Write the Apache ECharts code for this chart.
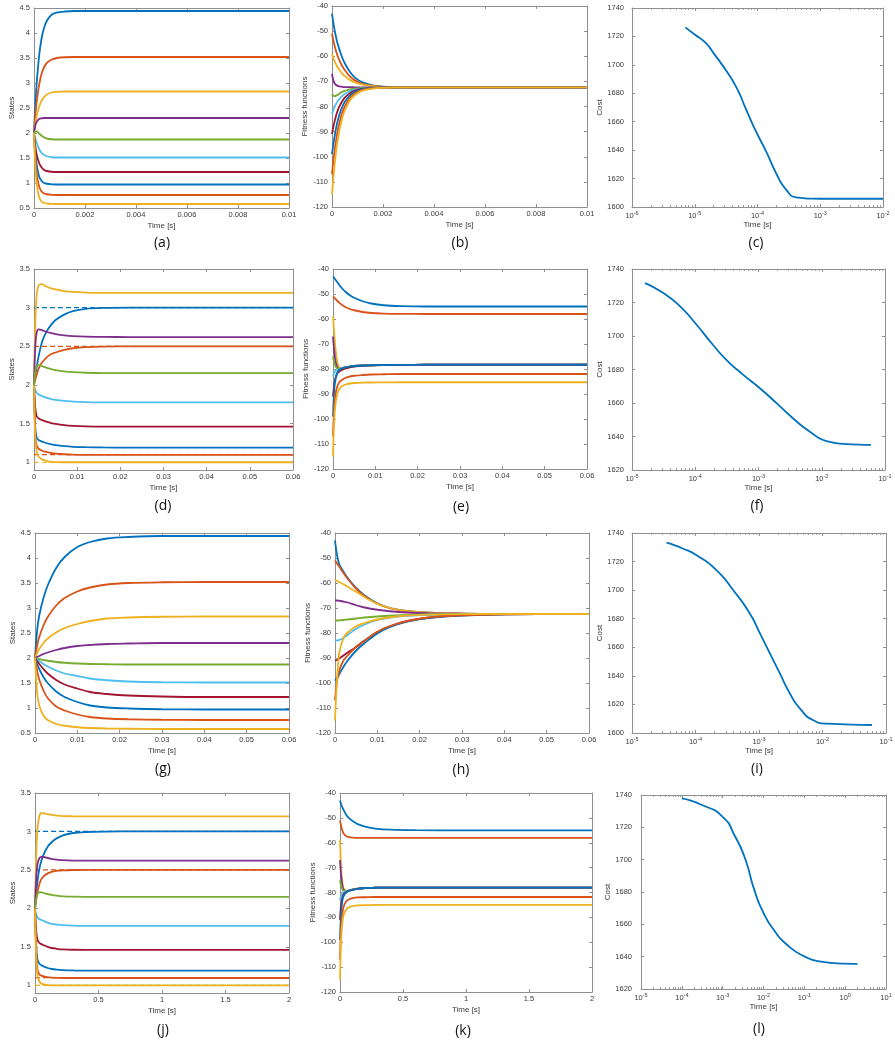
<!DOCTYPE html>
<html>
<head>
<meta charset="utf-8">
<script src="https://cdn.jsdelivr.net/npm/echarts@6/dist/echarts.min.js"></script>
<style>
  html, body { margin: 0; padding: 0; background: #ffffff; }
  #chart { width: 895px; height: 1044px; }
</style>
</head>
<body>
<div id="chart"></div>
<script>
// ---------- data: states, fitness functions and cost for four runs ----------

// (a) states, short horizon
const timeA = [0, 0.00005, 0.0001, 0.0002, 0.0003, 0.0004, 0.0005, 0.0007, 0.0009, 0.0012, 0.0016, 0.0022, 0.003, 0.005, 0.01];
const statesA = [
  [2, 2.55, 2.96, 3.54, 3.9, 4.11, 4.24, 4.37, 4.41, 4.43, 4.44, 4.44, 4.44, 4.44, 4.44],
  [2, 2.34, 2.6, 2.96, 3.19, 3.32, 3.4, 3.47, 3.5, 3.515, 3.52, 3.52, 3.52, 3.52, 3.52],
  [2, 2.18, 2.33, 2.52, 2.65, 2.72, 2.77, 2.81, 2.822, 2.83, 2.83, 2.83, 2.83, 2.83, 2.83],
  [2, 2.14, 2.22, 2.28, 2.295, 2.3, 2.3, 2.3, 2.3, 2.3, 2.3, 2.3, 2.3, 2.3, 2.3],
  [2, 2.025, 2.03, 1.99, 1.945, 1.91, 1.89, 1.875, 1.87, 1.87, 1.87, 1.87, 1.87, 1.87, 1.87],
  [2, 1.9, 1.81, 1.68, 1.6, 1.56, 1.535, 1.515, 1.51, 1.51, 1.51, 1.51, 1.51, 1.51, 1.51],
  [2, 1.75, 1.58, 1.4, 1.31, 1.26, 1.24, 1.225, 1.22, 1.22, 1.22, 1.22, 1.22, 1.22, 1.22],
  [2, 1.62, 1.38, 1.13, 1.04, 1.0, 0.985, 0.973, 0.97, 0.97, 0.97, 0.97, 0.97, 0.97, 0.97],
  [2, 1.5, 1.2, 0.93, 0.83, 0.79, 0.775, 0.763, 0.76, 0.76, 0.76, 0.76, 0.76, 0.76, 0.76],
  [2, 1.35, 1.0, 0.72, 0.63, 0.6, 0.59, 0.582, 0.58, 0.58, 0.58, 0.58, 0.58, 0.58, 0.58]
];

// (b) fitness functions, short horizon
const timeB = [0, 0.00005, 0.0001, 0.0002, 0.0003, 0.0004, 0.0005, 0.0007, 0.0009, 0.0012, 0.0016, 0.002, 0.0025, 0.004, 0.01];
const fitnessB = [
  [-43, -46.5, -49.5, -54.2, -57.6, -60.5, -62.8, -66.2, -68.5, -70.4, -71.6, -72.1, -72.3, -72.4, -72.4],
  [-51, -53.5, -55.8, -59.3, -61.8, -63.9, -65.5, -68, -69.6, -71, -71.8, -72.2, -72.35, -72.4, -72.4],
  [-59, -60.5, -61.9, -64, -65.6, -66.9, -67.9, -69.4, -70.4, -71.3, -71.9, -72.2, -72.35, -72.4, -72.4],
  [-67, -69.5, -70.8, -71.7, -72, -72.15, -72.25, -72.3, -72.35, -72.4, -72.4, -72.4, -72.4, -72.4, -72.4],
  [-75, -75.7, -75.9, -75.5, -74.8, -74.2, -73.8, -73.2, -72.9, -72.6, -72.5, -72.45, -72.4, -72.4, -72.4],
  [-83, -81.5, -80.2, -78.2, -76.9, -75.8, -75, -73.9, -73.3, -72.8, -72.55, -72.45, -72.4, -72.4, -72.4],
  [-91, -88.3, -86, -82.3, -79.8, -77.9, -76.5, -74.7, -73.7, -72.9, -72.6, -72.45, -72.4, -72.4, -72.4],
  [-99, -95.3, -92, -86.7, -83, -80.2, -78.2, -75.6, -74.2, -73.1, -72.65, -72.5, -72.4, -72.4, -72.4],
  [-107, -102, -97.8, -91, -86.2, -82.6, -80, -76.6, -74.8, -73.4, -72.75, -72.5, -72.42, -72.4, -72.4],
  [-115, -109, -103.5, -95, -89.2, -84.7, -81.6, -77.6, -75.4, -73.7, -72.85, -72.55, -72.42, -72.4, -72.4]
];

// (c) cost
const timeC = [7.1e-6, 1e-5, 1.48e-5, 2.09e-5, 3.24e-5, 4.68e-5, 6.68e-5, 9.6e-5, 1.39e-4, 2e-4, 2.88e-4, 4.17e-4, 6.8e-4, 1e-3, 1e-2];
const costC = [1726.4, 1721.3, 1715.6, 1707, 1695.3, 1683.6, 1668, 1652.6, 1638.6, 1623.4, 1612, 1606.8, 1605.9, 1605.8, 1605.8];

// (d) states with bounds
const timeD = [0, 0.0003, 0.0006, 0.001, 0.0015, 0.002, 0.003, 0.004, 0.005, 0.007, 0.009, 0.012, 0.016, 0.022, 0.03, 0.06];
const statesD = [
  [2, 2.12, 2.22, 2.35, 2.48, 2.58, 2.7, 2.78, 2.84, 2.91, 2.955, 2.985, 2.997, 3.0, 3.0, 3.0],
  [2, 2.07, 2.13, 2.2, 2.26, 2.3, 2.36, 2.4, 2.42, 2.455, 2.475, 2.49, 2.497, 2.5, 2.5, 2.5],
  [2, 2.8, 3.15, 3.28, 3.305, 3.3, 3.27, 3.25, 3.235, 3.215, 3.203, 3.195, 3.192, 3.19, 3.19, 3.19],
  [2, 2.5, 2.67, 2.72, 2.715, 2.705, 2.685, 2.67, 2.658, 2.642, 2.632, 2.625, 2.621, 2.62, 2.62, 2.62],
  [2, 2.18, 2.25, 2.26, 2.25, 2.24, 2.22, 2.205, 2.192, 2.176, 2.166, 2.158, 2.154, 2.153, 2.153, 2.153],
  [2, 1.93, 1.9, 1.88, 1.865, 1.852, 1.832, 1.817, 1.806, 1.793, 1.785, 1.779, 1.776, 1.775, 1.775, 1.775],
  [2, 1.7, 1.6, 1.57, 1.555, 1.542, 1.522, 1.507, 1.496, 1.481, 1.472, 1.465, 1.462, 1.46, 1.46, 1.46],
  [2, 1.45, 1.32, 1.29, 1.276, 1.265, 1.246, 1.232, 1.221, 1.208, 1.2, 1.195, 1.192, 1.19, 1.19, 1.19],
  [2, 1.35, 1.22, 1.18, 1.16, 1.146, 1.13, 1.12, 1.112, 1.104, 1.099, 1.096, 1.095, 1.095, 1.095, 1.095],
  [2, 1.3, 1.14, 1.08, 1.05, 1.035, 1.016, 1.006, 1.002, 1.0, 1.0, 1.0, 1.0, 1.0, 1.0, 1.0]
];
const boundsD = [3.0, 2.5, 1.1, 1.0];
const boundSeriesD = [0, 1, 8, 9];

// (e) fitness functions with bounds
const timeE = [0, 0.0003, 0.0006, 0.001, 0.0015, 0.002, 0.003, 0.004, 0.005, 0.007, 0.009, 0.012, 0.016, 0.022, 0.03, 0.06];
const fitnessE = [
  [-43, -43.6, -44.3, -45.2, -46.4, -47.5, -49.2, -50.5, -51.5, -52.9, -53.8, -54.5, -54.85, -55, -55, -55],
  [-51, -51.5, -52, -52.7, -53.5, -54.2, -55.3, -56, -56.5, -57.2, -57.6, -57.85, -57.95, -58, -58, -58],
  [-59, -66, -72, -77, -79.5, -79.8, -79.3, -79, -78.8, -78.6, -78.5, -78.4, -78.35, -78.3, -78.3, -78.3],
  [-67, -73, -77, -79.3, -80, -79.8, -79.3, -79, -78.8, -78.6, -78.5, -78.4, -78.35, -78.3, -78.3, -78.3],
  [-75, -77.5, -79, -79.8, -80, -79.8, -79.3, -79, -78.8, -78.6, -78.5, -78.4, -78.35, -78.3, -78.3, -78.3],
  [-83, -81.5, -80.8, -80.4, -80.2, -79.9, -79.4, -79.1, -78.9, -78.65, -78.5, -78.4, -78.35, -78.3, -78.3, -78.3],
  [-91, -86, -83.5, -81.8, -81, -80.5, -79.8, -79.3, -79, -78.7, -78.55, -78.4, -78.35, -78.3, -78.3, -78.3],
  [-99, -88, -84, -81.5, -80.3, -79.8, -79.3, -79, -78.8, -78.6, -78.5, -78.4, -78.35, -78.3, -78.3, -78.3],
  [-107, -95, -90, -87, -85.3, -84.5, -83.5, -83, -82.7, -82.4, -82.2, -82.1, -82, -82, -82, -82],
  [-115, -100, -94, -90, -88, -87, -86.2, -85.8, -85.6, -85.45, -85.4, -85.35, -85.3, -85.3, -85.3, -85.3]
];

// (f) cost
const timeF = [1.6e-5, 3.13e-5, 5.75e-5, 1.05e-4, 1.9e-4, 3.1e-4, 5.75e-4, 1.05e-3, 1.93e-3, 3.5e-3, 6.5e-3, 1.19e-2, 2.2e-2, 6e-2];
const costF = [1731.6, 1725.6, 1717.7, 1706.7, 1694.8, 1685.8, 1676.8, 1668.8, 1659.9, 1650.9, 1642.9, 1637.3, 1635.6, 1635];

// (g) states, slower dynamics
const timeG = [0, 0.0005, 0.001, 0.002, 0.003, 0.005, 0.007, 0.01, 0.013, 0.017, 0.022, 0.03, 0.04, 0.06];
const statesG = [
  [2, 2.55, 2.85, 3.2, 3.45, 3.8, 4.02, 4.22, 4.32, 4.39, 4.42, 4.44, 4.44, 4.44],
  [2, 2.25, 2.42, 2.65, 2.82, 3.05, 3.2, 3.33, 3.41, 3.47, 3.5, 3.515, 3.52, 3.52],
  [2, 2.1, 2.18, 2.3, 2.39, 2.51, 2.6, 2.68, 2.74, 2.79, 2.81, 2.825, 2.83, 2.83],
  [2, 2.02, 2.04, 2.08, 2.11, 2.16, 2.2, 2.24, 2.26, 2.28, 2.29, 2.3, 2.3, 2.3],
  [2, 1.99, 1.98, 1.96, 1.945, 1.92, 1.905, 1.89, 1.88, 1.875, 1.87, 1.87, 1.87, 1.87],
  [2, 1.97, 1.94, 1.88, 1.83, 1.75, 1.69, 1.64, 1.59, 1.555, 1.53, 1.515, 1.51, 1.51],
  [2, 1.94, 1.88, 1.78, 1.69, 1.56, 1.47, 1.39, 1.32, 1.28, 1.25, 1.23, 1.22, 1.22],
  [2, 1.88, 1.78, 1.62, 1.5, 1.33, 1.22, 1.12, 1.05, 1.01, 0.99, 0.975, 0.97, 0.97],
  [2, 1.75, 1.57, 1.35, 1.2, 1.03, 0.95, 0.87, 0.82, 0.79, 0.775, 0.765, 0.76, 0.76],
  [2, 1.3, 1.05, 0.85, 0.76, 0.68, 0.645, 0.615, 0.6, 0.59, 0.585, 0.58, 0.58, 0.58]
];

// (h) fitness functions, slower dynamics
const timeH = [0, 0.0005, 0.001, 0.002, 0.003, 0.005, 0.007, 0.01, 0.013, 0.017, 0.022, 0.03, 0.04, 0.06];
const fitnessH = [
  [-43, -49, -52.5, -55.5, -58, -62, -65, -68.1, -70, -71.2, -71.9, -72.3, -72.4, -72.4],
  [-51, -52.3, -53.5, -56, -58.3, -62.3, -65.3, -68.3, -70.1, -71.3, -71.9, -72.3, -72.4, -72.4],
  [-59, -59.2, -59.6, -60.5, -61.5, -63.5, -65.7, -68.3, -70, -71.2, -71.9, -72.3, -72.4, -72.4],
  [-67, -67, -67.1, -67.4, -67.8, -68.9, -69.8, -70.7, -71.3, -71.8, -72.1, -72.3, -72.4, -72.4],
  [-75, -75, -74.95, -74.8, -74.6, -74.2, -73.8, -73.4, -73.1, -72.8, -72.6, -72.45, -72.4, -72.4],
  [-83, -83, -82.8, -82, -80.8, -78.3, -76.6, -74.8, -73.8, -73.1, -72.7, -72.45, -72.4, -72.4],
  [-91, -90.8, -90.2, -89, -87.8, -85.6, -83, -79.6, -77.3, -75.3, -73.9, -72.9, -72.5, -72.4],
  [-99, -98, -96.5, -93.5, -91, -87, -84, -80.2, -77.6, -75.4, -74, -73, -72.5, -72.4],
  [-107, -99, -95, -91, -89, -85.5, -83, -79.5, -77.2, -75.2, -73.8, -72.9, -72.5, -72.4],
  [-115, -98, -88, -82, -79.8, -77.3, -76, -74.6, -73.7, -73, -72.65, -72.45, -72.4, -72.4]
];

// (i) cost
const timeI = [3.5e-5, 6.4e-5, 1.04e-4, 2.15e-4, 3.94e-4, 7.2e-4, 1.04e-3, 1.49e-3, 2.14e-3, 3.08e-3, 4.43e-3, 7.2e-3, 1.16e-2, 6e-2];
const costI = [1733.2, 1729, 1724.4, 1713.9, 1699.9, 1683.5, 1669.5, 1655.5, 1641.5, 1627.5, 1617, 1608.9, 1606.5, 1605.6];

// (j) states with bounds, long horizon
const timeJ = [0, 0.01, 0.02, 0.035, 0.05, 0.07, 0.1, 0.13, 0.17, 0.22, 0.3, 0.4, 0.55, 0.8, 1.2, 2];
const statesJ = [
  [2, 2.2, 2.36, 2.52, 2.62, 2.71, 2.8, 2.86, 2.91, 2.95, 2.98, 2.993, 2.999, 3.0, 3.0, 3.0],
  [2, 2.12, 2.22, 2.32, 2.38, 2.42, 2.455, 2.475, 2.487, 2.495, 2.499, 2.5, 2.5, 2.5, 2.5, 2.5],
  [2, 2.7, 3.05, 3.2, 3.24, 3.235, 3.225, 3.215, 3.207, 3.2, 3.197, 3.195, 3.195, 3.195, 3.195, 3.195],
  [2, 2.4, 2.58, 2.655, 2.67, 2.668, 2.655, 2.645, 2.635, 2.627, 2.622, 2.62, 2.62, 2.62, 2.62, 2.62],
  [2, 2.13, 2.19, 2.21, 2.208, 2.2, 2.185, 2.175, 2.165, 2.157, 2.152, 2.15, 2.15, 2.15, 2.15, 2.15],
  [2, 1.92, 1.88, 1.86, 1.85, 1.835, 1.815, 1.8, 1.79, 1.782, 1.776, 1.773, 1.772, 1.772, 1.772, 1.772],
  [2, 1.7, 1.59, 1.55, 1.535, 1.52, 1.5, 1.485, 1.475, 1.467, 1.462, 1.46, 1.46, 1.46, 1.46, 1.46],
  [2, 1.5, 1.33, 1.28, 1.26, 1.245, 1.225, 1.212, 1.203, 1.197, 1.193, 1.19, 1.19, 1.19, 1.19, 1.19],
  [2, 1.4, 1.2, 1.14, 1.125, 1.115, 1.105, 1.1, 1.097, 1.095, 1.095, 1.095, 1.095, 1.095, 1.095, 1.095],
  [2, 1.35, 1.12, 1.05, 1.025, 1.012, 1.005, 1.0, 1.0, 1.0, 1.0, 1.0, 1.0, 1.0, 1.0, 1.0]
];
const boundsJ = [3.0, 2.5, 1.1, 1.0];
const boundSeriesJ = [0, 1, 8, 9];

// (k) fitness functions with bounds, long horizon
const timeK = [0, 0.005, 0.01, 0.02, 0.03, 0.05, 0.07, 0.1, 0.14, 0.2, 0.28, 0.4, 0.6, 1.0, 2];
const fitnessK = [
  [-43, -43.8, -44.6, -45.9, -47, -48.8, -50, -51.3, -52.5, -53.5, -54.3, -54.75, -54.95, -55, -55],
  [-51, -52.3, -53.5, -55.3, -56.4, -57.4, -57.7, -57.9, -58, -58, -58, -58, -58, -58, -58],
  [-59, -66, -71, -76.5, -78.5, -79.3, -79, -78.7, -78.4, -78.2, -78.1, -78, -78, -78, -78],
  [-67, -71, -74, -77.5, -79, -79.5, -79.2, -78.8, -78.5, -78.2, -78.1, -78, -78, -78, -78],
  [-75, -76.5, -77.5, -78.8, -79.4, -79.5, -79.2, -78.8, -78.5, -78.2, -78.1, -78, -78, -78, -78],
  [-83, -82, -81.2, -80.3, -79.9, -79.5, -79.2, -78.8, -78.5, -78.2, -78.1, -78, -78, -78, -78],
  [-91, -87, -84.5, -81.8, -80.6, -79.8, -79.3, -78.9, -78.5, -78.2, -78.1, -78, -78, -78, -78],
  [-99, -92, -87.5, -83, -81.2, -80, -79.4, -78.9, -78.5, -78.2, -78.1, -78, -78, -78, -78],
  [-107, -98, -93, -88, -85.5, -83.5, -82.8, -82.3, -82, -81.9, -81.8, -81.8, -81.8, -81.8, -81.8],
  [-115, -104, -97.5, -91.5, -88.8, -86.8, -86, -85.5, -85.2, -85.1, -85, -85, -85, -85, -85]
];

// (l) cost
const timeL = [1e-4, 3e-4, 1e-3, 2e-3, 3.5e-3, 6e-3, 1e-2, 1.8e-2, 3.7e-2, 1e-1, 0.25, 1, 2];
const costL = [1737.9, 1734, 1726.5, 1714.5, 1701, 1681, 1667, 1656.5, 1647.5, 1640.2, 1637, 1635.7, 1635.5];

// tick values
const statesTicksBounded = [1, 1.5, 2, 2.5, 3, 3.5];

// ---------- styling ----------
const palette = ['#0072BD', '#D95319', '#EDB120', '#7E2F8E', '#77AC30', '#4DBEEE', '#A2142F', '#0072BD', '#D95319', '#EDB120'];
const FRAME = '#8f8f8f';
const TEXT = '#3a3a3a';
const SANS = '"Liberation Sans", Arial, Helvetica, sans-serif';
const tickFont = { fontFamily: SANS, fontSize: 7.5, color: TEXT };
const nameFont = { fontFamily: SANS, fontSize: 8, color: TEXT };

const option = {
  animation: false,
  backgroundColor: '#ffffff',
  grid: [], xAxis: [], yAxis: [], series: [], graphic: []
};

function minorLogTicks(lo, hi) {
  const out = [];
  for (let e = Math.round(Math.log10(lo)); e < Math.round(Math.log10(hi)); e++) {
    for (let k = 2; k <= 9; k++) out.push(k * Math.pow(10, e));
  }
  return out;
}

function logLabel(v) {
  return '{b|10}{e|' + Math.round(Math.log10(v)) + '}';
}

// plain numbers, no thousands separators
function plainLabel(v) {
  return String(Number(Number(v).toPrecision(10)));
}

function axisBase(gi, s) {
  const a = {
    gridIndex: gi, type: s.type, min: s.min, max: s.max,
    splitLine: { show: false }, minorTick: { show: false },
    axisLine: { show: true, onZero: false, lineStyle: { color: FRAME, width: 1 } }
  };
  if (s.type === 'log') a.logBase = 10;
  else if (s.interval) a.interval = s.interval;
  return a;
}

function tickCfg(s, len) {
  const t = { show: true, inside: true, length: len, lineStyle: { color: FRAME, width: 1 } };
  if (s.ticks) t.customValues = s.ticks;
  return t;
}

// one framed panel: bottom/left axes with labels, mirrored ticks on top/right
function addPanel(p) {
  const gi = option.grid.length;
  option.grid.push({ left: p.rect[0], top: p.rect[1], width: p.rect[2], height: p.rect[3], containLabel: false, outerBoundsMode: 'none' });

  const xi = option.xAxis.length;
  const xLabel = Object.assign({ show: true, margin: 3 }, tickFont);
  if (p.x.ticks) xLabel.customValues = p.x.ticks;
  if (p.x.type === 'log') {
    xLabel.formatter = logLabel;
    xLabel.rich = {
      b: { fontFamily: SANS, fontSize: 7.5, color: TEXT, verticalAlign: 'bottom' },
      e: { fontFamily: SANS, fontSize: 5.5, color: TEXT, verticalAlign: 'bottom', padding: [0, 0, 4, 0] }
    };
  } else {
    xLabel.formatter = plainLabel;
  }
  option.xAxis.push(Object.assign(axisBase(gi, p.x), {
    position: 'bottom', axisTick: tickCfg(p.x, 3), axisLabel: xLabel,
    name: 'Time [s]', nameLocation: 'middle', nameGap: p.xNameGap || 14, nameTextStyle: nameFont
  }));
  option.xAxis.push(Object.assign(axisBase(gi, p.x), {
    position: 'top', axisTick: tickCfg(p.x, 3), axisLabel: { show: false }
  }));
  if (p.x.type === 'log') {
    const minor = { ticks: minorLogTicks(p.x.min, p.x.max) };
    ['bottom', 'top'].forEach(pos => {
      const ax = axisBase(gi, p.x);
      ax.axisLine = { show: false };
      option.xAxis.push(Object.assign(ax, { position: pos, axisTick: tickCfg(minor, 1.8), axisLabel: { show: false } }));
    });
  }

  const yi = option.yAxis.length;
  const yLabel = Object.assign({ show: true, margin: p.yLabelMargin || 4, formatter: plainLabel }, tickFont);
  if (p.y.ticks) yLabel.customValues = p.y.ticks;
  option.yAxis.push(Object.assign(axisBase(gi, p.y), {
    position: 'left', axisTick: tickCfg(p.y, 3), axisLabel: yLabel,
    name: p.yName, nameLocation: 'middle', nameGap: p.yNameGap, nameTextStyle: nameFont
  }));
  option.yAxis.push(Object.assign(axisBase(gi, p.y), {
    position: 'right', axisTick: tickCfg(p.y, 3), axisLabel: { show: false }
  }));

  // dashed bound lines go underneath the trajectories
  if (p.bounds) {
    p.bounds.forEach((b, k) => {
      option.series.push({
        type: 'line', xAxisIndex: xi, yAxisIndex: yi, silent: true, showSymbol: false,
        data: [[p.x.min, b], [p.x.max, b]],
        lineStyle: { color: palette[p.boundSeries[k]], width: 1.2, type: [5, 3] }, z: 1
      });
    });
  }

  p.values.forEach((vals, k) => {
    option.series.push({
      type: 'line', xAxisIndex: xi, yAxisIndex: yi, silent: true, showSymbol: false,
      smooth: p.smooth || 0.35, clip: true,
      data: p.time.map((t, i) => [t, vals[i]]),
      lineStyle: { color: palette[k], width: 1.8 }, z: 2
    });
  });

  option.graphic.push({
    type: 'text', x: p.tag[1], y: p.tag[2],
    style: { text: p.tag[0], fontFamily: '"Open Sans", "Noto Sans", sans-serif', fontSize: 14, fill: '#111',
             textAlign: 'center', textVerticalAlign: 'middle' }
  });
}

const xShort = { type: 'value', min: 0, max: 0.01, interval: 0.002 };
const xMid = { type: 'value', min: 0, max: 0.06, interval: 0.01 };
const xLong = { type: 'value', min: 0, max: 2, interval: 0.5 };
const yWide = { type: 'value', min: 0.5, max: 4.5, interval: 0.5 };
const yBounded = { type: 'value', min: 0.9, max: 3.5, ticks: statesTicksBounded };
const yFit = { type: 'value', min: -120, max: -40, interval: 10 };

// row 1
addPanel({ rect: [34, 8, 255, 200], x: xShort, y: yWide, yName: 'States', yNameGap: 17,
  time: timeA, values: statesA, tag: ['(a)', 162, 243] });
addPanel({ rect: [332, 6, 255, 201], x: xShort, y: yFit, yName: 'Fitness functions', yNameGap: 23,
  time: timeB, values: fitnessB, tag: ['(b)', 460, 243] });
addPanel({ rect: [632, 8, 251, 199], x: { type: 'log', min: 1e-6, max: 1e-2 }, y: { type: 'value', min: 1600, max: 1740, interval: 20 },
  yName: 'Cost', yNameGap: 27, yLabelMargin: 8, smooth: 0.6, time: timeC, values: [costC], tag: ['(c)', 756, 243] });

// row 2
addPanel({ rect: [34, 269, 259, 201], x: xMid, y: yBounded, yName: 'States', yNameGap: 17,
  time: timeD, values: statesD, bounds: boundsD, boundSeries: boundSeriesD, tag: ['(d)', 163, 506] });
addPanel({ rect: [333, 269, 254, 200], x: xMid, y: yFit, yName: 'Fitness functions', yNameGap: 23,
  time: timeE, values: fitnessE, tag: ['(e)', 461, 507] });
addPanel({ rect: [632, 269, 253, 201], x: { type: 'log', min: 1e-5, max: 1e-1 }, y: { type: 'value', min: 1620, max: 1740, interval: 20 },
  yName: 'Cost', yNameGap: 27, yLabelMargin: 8, smooth: 0.6, time: timeF, values: [costF], tag: ['(f)', 757, 506] });

// row 3
addPanel({ rect: [35, 533, 254, 200], x: xMid, y: yWide, yName: 'States', yNameGap: 17,
  time: timeG, values: statesG, tag: ['(g)', 163, 769] });
addPanel({ rect: [335, 533, 254, 200], x: xMid, y: yFit, yName: 'Fitness functions', yNameGap: 23,
  time: timeH, values: fitnessH, tag: ['(h)', 461, 770] });
addPanel({ rect: [632, 533, 254, 200], x: { type: 'log', min: 1e-5, max: 1e-1 }, y: { type: 'value', min: 1600, max: 1740, interval: 20 },
  yName: 'Cost', yNameGap: 27, yLabelMargin: 8, smooth: 0.6, time: timeI, values: [costI], tag: ['(i)', 757, 769] });

// row 4
addPanel({ rect: [35, 793, 254, 200], x: xLong, y: yBounded, yName: 'States', yNameGap: 17,
  time: timeJ, values: statesJ, bounds: boundsJ, boundSeries: boundSeriesJ, tag: ['(j)', 163, 1030] });
addPanel({ rect: [340, 793, 252, 199], x: xLong, y: yFit, yName: 'Fitness functions', yNameGap: 23,
  time: timeK, values: fitnessK, tag: ['(k)', 463, 1031] });
addPanel({ rect: [641, 795, 245, 194], x: { type: 'log', min: 1e-5, max: 10 }, y: { type: 'value', min: 1620, max: 1740, interval: 20 },
  yName: 'Cost', yNameGap: 26, yLabelMargin: 9, smooth: 0.6, time: timeL, values: [costL], tag: ['(l)', 759, 1029] });

const chart = echarts.init(document.getElementById('chart'), null, { renderer: 'canvas' });
chart.setOption(option);
</script>
</body>
</html>
